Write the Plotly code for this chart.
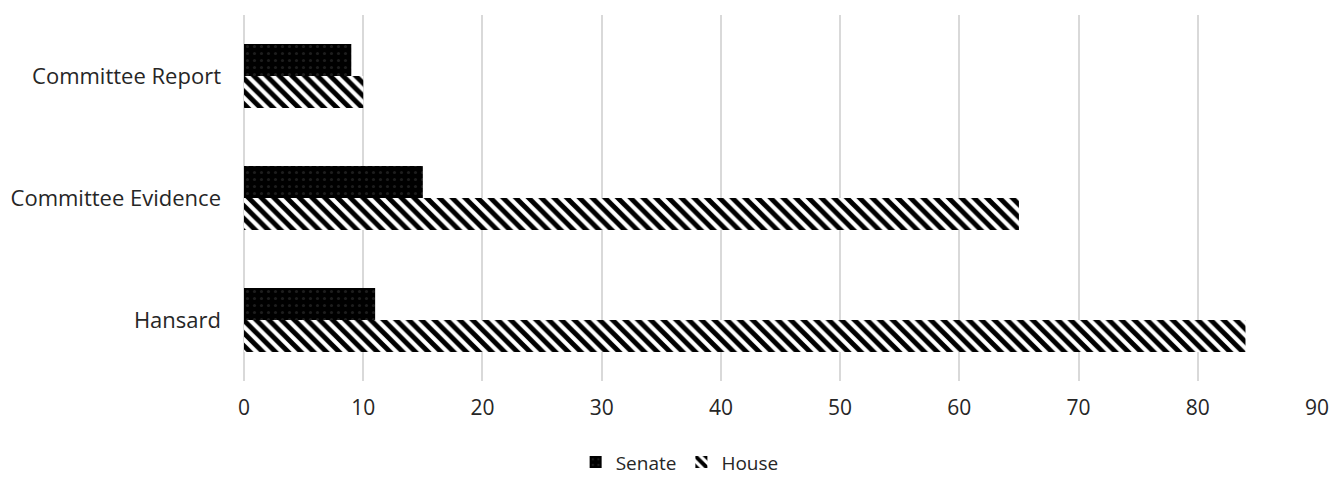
import plotly.graph_objects as go

categories = ["Hansard", "Committee Evidence", "Committee Report"]
senate = [11, 15, 9]
house = [84, 65, 10]
x_ticks = [0, 10, 20, 30, 40, 50, 60, 70, 80, 90]

fig = go.Figure()
fig.add_trace(go.Bar(
    y=categories, x=house, name="House", orientation="h", legendrank=2,
    marker=dict(color="white", line=dict(width=0),
                pattern=dict(shape="\\", fgcolor="black", bgcolor="white",
                             fgopacity=1, size=9, solidity=0.55)),
))
fig.add_trace(go.Bar(
    y=categories, x=senate, name="Senate", orientation="h", legendrank=1,
    marker=dict(color="black", line=dict(width=0),
                pattern=dict(shape=".", fgcolor="#3a3a3a", bgcolor="black",
                             size=7, solidity=0.15)),
))

TXT = "#262626"
fig.update_layout(
    width=1343, height=478,
    margin=dict(l=236, r=34, t=7, b=105, autoexpand=False),
    paper_bgcolor="white", plot_bgcolor="white",
    barmode="group", bargap=0.475, bargroupgap=0,
    font=dict(family="Open Sans", size=21, color=TXT),
    showlegend=True,
    legend=dict(orientation="h", x=0.406, xanchor="center", y=-0.222, yanchor="middle",
                font=dict(size=19, color=TXT), itemwidth=30, traceorder="normal"),
    xaxis=dict(range=[0, 90], tickvals=x_ticks, showgrid=True, gridcolor="#d9d9d9",
               gridwidth=2, zeroline=True, zerolinecolor="#d9d9d9", zerolinewidth=2,
               showline=False, ticks="", ticklabelstandoff=12,
               tickfont=dict(size=21, color=TXT), automargin=False),
    yaxis=dict(categoryorder="array", categoryarray=categories, showgrid=False,
               ticks="", showline=False, ticklabelstandoff=22, automargin=False,
               tickfont=dict(size=22, color=TXT)),
)

fig.write_html("out.html")
